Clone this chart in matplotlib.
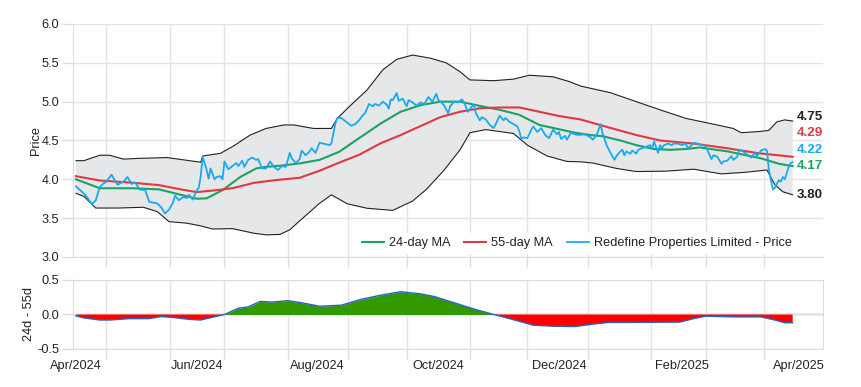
import numpy as np
import pandas as pd
import matplotlib
matplotlib.use("Agg")
import matplotlib.pyplot as plt
import matplotlib.dates as mdates
from matplotlib.ticker import FixedLocator
from matplotlib import rcParams

rcParams["font.family"] = ["Liberation Sans", "DejaVu Sans"]
rcParams["font.size"] = 9.2
rcParams["text.color"] = "#222222"
rcParams["axes.labelcolor"] = "#222222"
rcParams["xtick.labelcolor"] = "#222222"
rcParams["ytick.labelcolor"] = "#222222"
rcParams["xtick.color"] = "#dddddd"
rcParams["ytick.color"] = "#dddddd"
rcParams["axes.edgecolor"] = "#dddddd"

green = "#1aa364"
red = "#e0393e"
blue = "#18aaf0"

start = pd.Timestamp("2024-04-01")

# price, days since 2024-04-01
price_day = [0, 3, 5, 8, 10, 12, 14, 15, 18, 20, 21, 24, 26, 28, 30,
             32, 35, 37, 41, 43, 45, 47, 49, 50, 52, 54, 56, 57, 59, 61,
             62, 63, 64, 66, 67, 68, 70, 71, 73, 74, 75, 77, 79, 81, 82,
             84, 85, 87, 89, 91, 92, 94, 96, 98, 100, 102, 104, 106, 108, 109,
             111, 113, 114, 116, 118, 119, 121, 123, 125, 128, 129, 131, 132, 134, 137,
             139, 141, 143, 145, 146, 148, 150, 151, 153, 155, 157, 158, 159, 160, 162,
             163, 165, 167, 168, 170, 172, 174, 176, 178, 180, 182, 183, 185, 186, 188,
             189, 191, 193, 195, 196, 198, 200, 201, 202, 204, 205, 207, 209, 211, 212,
             214, 216, 217, 219, 221, 223, 224, 225, 226, 228, 230, 231, 233, 235, 237,
             239, 241, 243, 244, 245, 247, 248, 250, 252, 254, 257, 260, 261, 263, 265,
             266, 268, 270, 272, 273, 275, 276, 277, 278, 280, 281, 283, 284, 286, 288,
             290, 291, 292, 294, 295, 296, 297, 299, 301, 302, 304, 306, 308, 309, 311,
             312, 314, 316, 318, 321, 322, 324, 326, 327, 329, 331, 332, 334, 335, 337,
             339, 341, 343, 344, 346, 348, 349, 350, 352, 353, 355, 356, 357, 358, 360,
             361, 362]
price = [3.91, 3.84, 3.79, 3.68, 3.73, 3.90, 3.95, 3.96, 4.06, 3.97, 3.93, 3.97, 4.03, 3.94, 3.96,
         3.87, 3.86, 3.71, 3.69, 3.64, 3.56, 3.61, 3.70, 3.79, 3.73, 3.77, 3.76, 3.80, 3.74, 3.86,
         3.89, 4.04, 4.29, 4.12, 4.01, 4.14, 4.00, 4.03, 4.04, 4.00, 4.23, 4.13, 4.17, 4.21, 4.17,
         4.24, 4.16, 4.25, 4.28, 4.25, 4.26, 4.14, 4.14, 4.23, 4.16, 4.12, 4.17, 4.16, 4.34, 4.27,
         4.21, 4.26, 4.37, 4.31, 4.36, 4.40, 4.34, 4.47, 4.46, 4.44, 4.46, 4.72, 4.79, 4.79, 4.73,
         4.69, 4.71, 4.76, 4.83, 4.85, 4.97, 4.94, 4.97, 4.95, 5.00, 4.96, 4.91, 5.03, 5.02, 5.11,
         5.01, 5.04, 4.94, 5.02, 4.99, 4.95, 4.99, 4.97, 5.06, 5.00, 5.10, 5.02, 4.98, 4.95, 4.85,
         4.94, 5.00, 4.99, 5.03, 4.99, 4.87, 4.94, 4.96, 4.85, 4.76, 4.80, 4.77, 4.70, 4.66, 4.71,
         4.82, 4.76, 4.79, 4.74, 4.71, 4.68, 4.61, 4.52, 4.54, 4.53, 4.64, 4.68, 4.61, 4.66, 4.57,
         4.53, 4.64, 4.58, 4.61, 4.52, 4.56, 4.51, 4.60, 4.58, 4.57, 4.58, 4.54, 4.51, 4.57, 4.71,
         4.59, 4.44, 4.34, 4.25, 4.30, 4.36, 4.38, 4.31, 4.36, 4.33, 4.37, 4.33, 4.38, 4.40, 4.42,
         4.44, 4.39, 4.49, 4.34, 4.44, 4.40, 4.44, 4.46, 4.44, 4.46, 4.46, 4.44, 4.46, 4.40, 4.44,
         4.47, 4.46, 4.44, 4.43, 4.26, 4.31, 4.29, 4.20, 4.23, 4.24, 4.30, 4.25, 4.29, 4.38, 4.36,
         4.32, 4.28, 4.34, 4.30, 4.37, 4.39, 4.37, 4.12, 3.87, 3.89, 3.99, 3.97, 4.03, 4.00, 4.16,
         4.21, 4.22]

ma24_day = [0, 12, 29, 42, 53, 61, 66, 74, 83, 91, 96, 105, 113, 123, 133, 143, 154, 164, 174, 184,
            194, 204, 214, 224, 234, 244, 252, 260, 266, 275, 283, 292, 300, 308, 315, 329, 346, 355, 362]
ma24 = [4.00, 3.885, 3.885, 3.87, 3.80, 3.75, 3.755, 3.86, 4.03, 4.14, 4.16, 4.18, 4.205, 4.25, 4.355,
        4.53, 4.72, 4.87, 4.955, 5.00, 5.00, 4.945, 4.895, 4.83, 4.70, 4.645, 4.60, 4.57, 4.555, 4.50,
        4.44, 4.39, 4.38, 4.39, 4.41, 4.36, 4.27, 4.20, 4.17]

ma55_day = [0, 12, 29, 42, 53, 61, 71, 79, 90, 101, 113, 123, 133, 143, 154, 164, 174, 184, 194, 204,
            214, 224, 234, 244, 255, 266, 283, 295, 312, 329, 345, 362]
ma55 = [4.04, 3.985, 3.955, 3.925, 3.87, 3.835, 3.86, 3.885, 3.955, 3.99, 4.02, 4.11, 4.215, 4.315,
        4.465, 4.57, 4.685, 4.80, 4.87, 4.915, 4.925, 4.925, 4.87, 4.815, 4.77, 4.69, 4.57, 4.50,
        4.46, 4.40, 4.335, 4.29]

upper_day = [0, 4, 12, 17, 24, 32, 46, 63, 64, 73, 79, 88, 96, 105, 110, 120, 129, 132, 138, 147,
             155, 162, 170, 179, 187, 194, 199, 211, 221, 229, 241, 249, 255, 270, 283, 295, 308,
             322, 332, 336, 345, 350, 354, 358, 362]
upper = [4.24, 4.24, 4.31, 4.31, 4.26, 4.27, 4.28, 4.22, 4.30, 4.335, 4.42, 4.57, 4.655, 4.70, 4.70,
         4.655, 4.655, 4.785, 4.935, 5.15, 5.41, 5.545, 5.60, 5.56, 5.50, 5.385, 5.28, 5.27, 5.29,
         5.34, 5.32, 5.26, 5.20, 5.115, 5.00, 4.895, 4.785, 4.71, 4.655, 4.60, 4.615, 4.63, 4.74,
         4.765, 4.75]

lower_day = [0, 4, 10, 21, 34, 41, 47, 56, 63, 69, 79, 90, 96, 103, 108, 113, 123, 129, 137, 147,
             160, 170, 177, 186, 194, 199, 207, 221, 228, 238, 248, 255, 261, 273, 283, 298, 312,
             326, 338, 349, 353, 357, 362]
lower = [3.82, 3.78, 3.63, 3.63, 3.64, 3.585, 3.455, 3.435, 3.40, 3.36, 3.365, 3.305, 3.285, 3.29,
         3.35, 3.465, 3.69, 3.80, 3.685, 3.627, 3.60, 3.72, 3.87, 4.12, 4.38, 4.60, 4.64, 4.59, 4.44,
         4.30, 4.23, 4.225, 4.21, 4.14, 4.10, 4.105, 4.13, 4.07, 4.09, 4.12, 3.93, 3.84, 3.80]

diff_day = [0, 4, 12, 17, 27, 37, 43, 48, 57, 63, 69, 75, 82, 87, 93, 99, 107, 114, 123, 134,
            144, 154, 164, 174, 181, 191, 201, 211, 219, 231, 241, 252, 261, 269, 281, 305, 312,
            318, 333, 346, 353, 358, 362]
diff = [-0.02, -0.05, -0.08, -0.08, -0.06, -0.06, -0.03, -0.04, -0.07, -0.08, -0.04, 0.0, 0.09,
        0.11, 0.19, 0.18, 0.20, 0.17, 0.12, 0.135, 0.22, 0.28, 0.33, 0.30, 0.26, 0.17, 0.08, 0.0,
        -0.06, -0.155, -0.17, -0.175, -0.14, -0.115, -0.115, -0.11, -0.06, -0.025, -0.035, -0.035,
        -0.08, -0.12, -0.12]

grid_day = [15, 47.5, 75, 107, 137.5, 167, 199, 228, 258.5, 290.5, 318, 347.5]


def to_num(days):
    return mdates.date2num((start + pd.to_timedelta(days, unit="D")).to_pydatetime())


fig = plt.figure(figsize=(8.61, 3.87), dpi=100)
ax = fig.add_axes([0.0848, 0.336, 0.871, 0.602])
ax2 = fig.add_axes([0.0848, 0.0982, 0.871, 0.1783], sharex=ax)

# band
ux, lx = to_num(upper_day), to_num(lower_day)
ax.fill(np.concatenate([ux, lx[::-1]]), np.concatenate([upper, lower[::-1]]),
        color="#e6e7e8", lw=0, zorder=1)
ax.plot(ux, upper, color="#222222", lw=0.8, zorder=2)
ax.plot(lx, lower, color="#222222", lw=0.8, zorder=2)

l1, = ax.plot(to_num(ma24_day), ma24, color=green, lw=1.5, zorder=3, label="24-day MA")
l2, = ax.plot(to_num(ma55_day), ma55, color=red, lw=1.5, zorder=3, label="55-day MA")
l3, = ax.plot(to_num(price_day), price, color=blue, lw=1.3, zorder=4,
              label="Redefine Properties Limited - Price")

ax.set_ylim(3.0, 6.0)
ax.set_yticks(np.arange(3.0, 6.01, 0.5))
ax.yaxis.set_major_formatter(plt.FormatStrFormatter("%.1f"))
ax.set_ylabel("Price", fontsize=9.2)
ax.yaxis.set_label_coords(-0.042, 0.5)

leg = ax.legend(handles=[l1, l2, l3], loc="lower right", bbox_to_anchor=(0.972, -0.01),
                ncol=3, fontsize=9.2, frameon=True, facecolor="white", edgecolor="white",
                framealpha=1, handlelength=1.7, columnspacing=1.1, handletextpad=0.4,
                borderpad=0.3, fancybox=False)

# end value labels, spread so they don't overlap
last = to_num([price_day[-1]])[0]
ends = [(upper[-1], "#222222"), (ma55[-1], red), (price[-1], blue),
        (ma24[-1], green), (lower[-1], "#222222")]
ends = sorted(ends, key=lambda e: e[0])
ypos = []
for v, c in ends:
    y = v if not ypos else max(v, ypos[-1] + 0.21)
    ypos.append(y)
    ax.annotate(f"{v:.2f}", xy=(last, y), xytext=(3, 0), textcoords="offset points",
                va="center", ha="left", fontsize=9.6, fontweight="bold", color=c,
                annotation_clip=False)

# bottom panel
dx = to_num(diff_day)
d = np.array(diff)
ax2.fill_between(dx, d, 0, where=d >= 0, interpolate=True, color="#339900", lw=0)
ax2.fill_between(dx, d, 0, where=d <= 0, interpolate=True, color="#ff0000", lw=0)
ax2.plot(dx, d, color="#2a62c0", lw=1.0)
ax2.axhline(0, color="#999999", lw=1, zorder=0)
ax2.set_ylim(-0.5, 0.5)
ax2.set_yticks([-0.5, 0.0, 0.5])
ax2.yaxis.set_major_formatter(plt.FormatStrFormatter("%.1f"))
ax2.set_ylabel("24d - 55d", fontsize=9.2)
ax2.yaxis.set_label_coords(-0.051, 0.5)

ax2.set_xlim(to_num([-1.5])[0], to_num([377.3])[0])
ax2.xaxis.set_major_locator(mdates.MonthLocator(bymonth=[2, 4, 6, 8, 10, 12]))
ax2.xaxis.set_major_formatter(mdates.DateFormatter("%b/%Y"))

for a in (ax, ax2):
    a.xaxis.set_minor_locator(FixedLocator(to_num(grid_day)))
    a.grid(which="minor", axis="x", color="#e3e3e3", lw=1)
    a.grid(which="major", axis="y", color="#e3e3e3", lw=1)
    a.set_axisbelow(True)
    a.tick_params(axis="x", which="major", length=0, pad=8, labelsize=9.2)
    a.tick_params(axis="x", which="minor", length=7, width=1, color="#dddddd")
    a.tick_params(axis="y", which="major", length=8, width=1, pad=2, labelsize=9.2)

ax.tick_params(axis="x", which="both", labelbottom=False)
ax.spines["top"].set_visible(False)
ax.spines["right"].set_visible(False)

fig.savefig("out.png", dpi=100)
